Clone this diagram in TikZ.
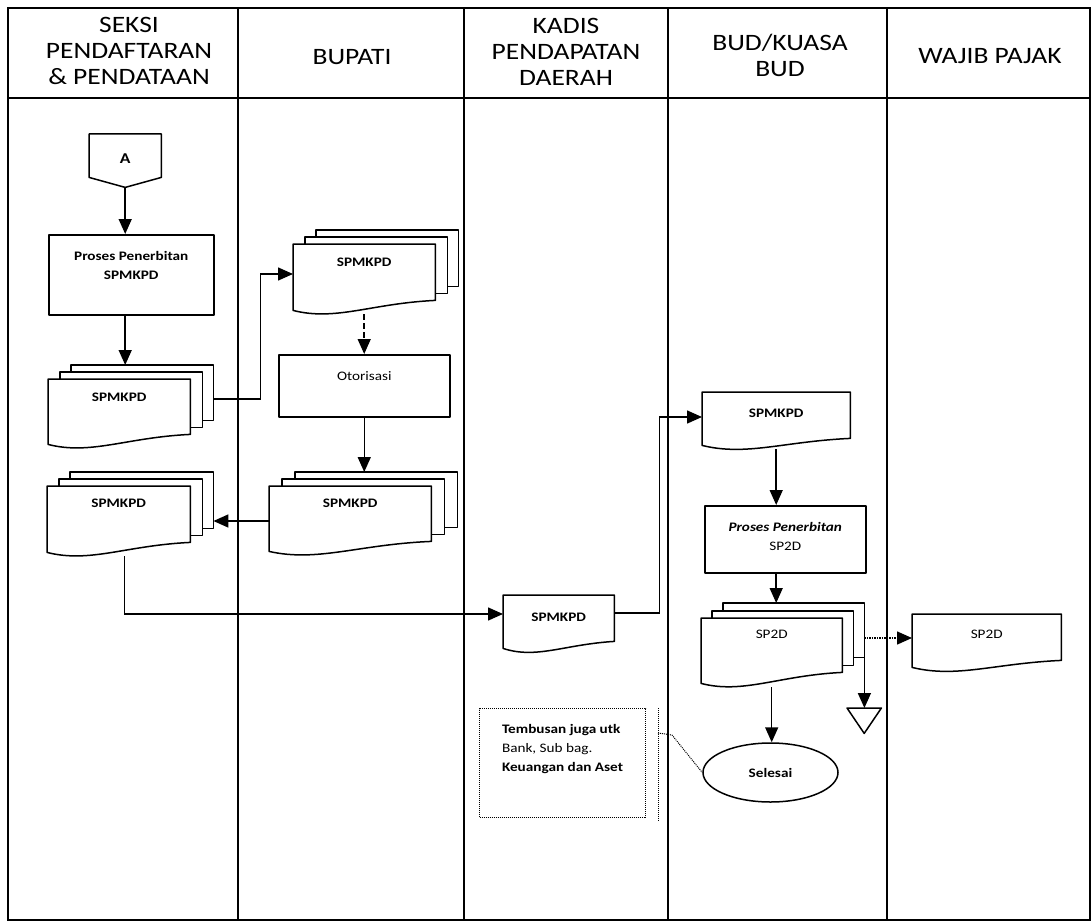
\documentclass[tikz,border=0pt]{standalone}
\usepackage{fontspec}
\setmainfont{Carlito}[FakeStretch=1.17]
\usetikzlibrary{arrows.meta,calc,backgrounds,shapes.geometric}

\newcommand{\bodyfont}{\fontsize{13}{19}\selectfont}
\newcommand{\headfont}{\fontsize{23.5}{26}\selectfont}

% document symbol drawn round node #1; #2 = rise of its lower right corner
\newcommand{\docoutline}[2]{%
  \filldraw[shapeline,fill=white]
    (#1.north west) -- (#1.north east) -- ([yshift=#2]#1.south east)
    .. controls ($(#1.south west)!0.55!(#1.south east)+(0pt,#2-3pt)$)
       and ($(#1.south west)!0.3!(#1.south east)+(0pt,-7pt)$)
    .. ([yshift=4pt]#1.south west) -- cycle;}

% a sheet behind the front document #1, moved by (#2,#3); #4 = rise of the front corner
\newcommand{\backsheet}[4]{%
  \filldraw[shapeline,fill=white]
    ([shift={(#2,#3)}]#1.north west) rectangle ([shift={(#2,#3+#4)}]#1.south east);}

\tikzset{
  shapeline/.style={line width=1.5pt, line join=round},
  base/.style={inner sep=0pt, anchor=north west, font=\bodyfont},
  boxnode/.style={base, draw, shapeline},
  arr/.style={line width=1.5pt, -{Triangle[length=15pt,width=13pt]}},
  frame/.style={line width=1.8pt},
  dotline/.style={line width=1pt, densely dotted},
  headnode/.style={font=\headfont, align=center, inner sep=0pt},
}

\begin{document}
\begin{tikzpicture}[x=1pt,y=-1pt]
\useasboundingbox (0,0) rectangle (1092,923);

% swimlane frame
\draw[frame] (8,8) rectangle (1090,920);
\draw[frame] (8,98) -- (1090,98);
\foreach \lx in {238,464,668,887} \draw[frame] (\lx,8) -- (\lx,920);

% lane titles
\node[headnode] (h1) at (129,51) {SEKSI\\PENDAFTARAN\\\& PENDATAAN};
\node[headnode] (h2) at (352,57) {BUPATI};
\node[headnode] (h3) at (566,52) {KADIS\\PENDAPATAN\\DAERAH};
\node[headnode] (h4) at (780,55) {BUD/KUASA\\BUD};
\node[headnode] (h5) at (990,56) {WAJIB PAJAK};

% off-page connector
\node[base, font=\fontsize{15}{18}\selectfont\bfseries, minimum width=72pt,
      text height=29pt, text depth=24pt] (A) at (89,134) {A};
\draw[shapeline] (A.north west) -- (A.north east) -- ([yshift=10pt]A.south east)
  -- (A.south) -- ([yshift=10pt]A.south west) -- cycle;

% process boxes
\node[boxnode, font=\bodyfont\bfseries, minimum width=165pt, text height=25.5pt, text depth=54.5pt]
  (p1) at (48,234) {\begin{tabular}[t]{@{}c@{}}Proses Penerbitan\\SPMKPD\end{tabular}};
\node[boxnode, minimum width=171pt, text height=25.5pt, text depth=36.5pt]
  (ot) at (278,354) {Otorisasi};
\node[boxnode, minimum width=161pt, text height=25.5pt, text depth=41.5pt]
  (p2) at (704,505) {\begin{tabular}[t]{@{}c@{}}\textbf{\textit{Proses Penerbitan}}\\SP2D\end{tabular}};

% documents (outlines on the background layer)
\node[base, font=\bodyfont\bfseries, minimum width=142pt, text height=22.5pt, text depth=46.5pt]
  (s1) at (48,379) {SPMKPD};
\node[base, font=\bodyfont\bfseries, minimum width=142pt, text height=22.5pt, text depth=47.5pt]
  (b1) at (293,244) {SPMKPD};
\node[base, font=\bodyfont\bfseries, minimum width=162pt, text height=21.5pt, text depth=47.5pt]
  (b2) at (269,486) {SPMKPD};
\node[base, font=\bodyfont\bfseries, minimum width=143pt, text height=21.5pt, text depth=48.5pt]
  (s2) at (47,486) {SPMKPD};
\node[base, font=\bodyfont\bfseries, minimum width=111pt, text height=26.5pt, text depth=30.5pt]
  (k1) at (503,595) {SPMKPD};
\node[base, font=\bodyfont\bfseries, minimum width=148pt, text height=25.5pt, text depth=31.5pt]
  (bd) at (702,392) {SPMKPD};
\node[base, minimum width=141pt, text height=20.5pt, text depth=48.5pt]
  (sp) at (701,618) {SP2D};
\node[base, minimum width=149pt, text height=24.5pt, text depth=32.5pt]
  (wj) at (912,614) {SP2D};

\begin{pgfonlayer}{background}
  \backsheet{s1}{23pt}{14pt}{14pt}
  \backsheet{s1}{12pt}{7pt}{14pt}
  \docoutline{s1}{14pt}
  \backsheet{b1}{23pt}{14pt}{14pt}
  \backsheet{b1}{12pt}{7pt}{14pt}
  \docoutline{b1}{14pt}
  \backsheet{b2}{26pt}{14pt}{14pt}
  \backsheet{b2}{13pt}{7pt}{14pt}
  \docoutline{b2}{14pt}
  \backsheet{s2}{23pt}{14pt}{14pt}
  \backsheet{s2}{12pt}{7pt}{14pt}
  \docoutline{s2}{14pt}
  \docoutline{k1}{11pt}
  \docoutline{bd}{11pt}
  \backsheet{sp}{22pt}{15pt}{15pt}
  \backsheet{sp}{11pt}{7pt}{15pt}
  \docoutline{sp}{15pt}
  \docoutline{wj}{11pt}
\end{pgfonlayer}

% terminator
\node[ellipse, draw, shapeline, inner sep=0pt, minimum width=135pt, minimum height=59pt,
      font=\bodyfont\bfseries] (se) at (770.5,772.5) {Selesai};

% off-page reference below the stack
\node[base, minimum width=34pt, minimum height=25pt] (off) at (847,708) {};
\draw[shapeline] (off.north west) -- (off.north east) -- (off.south) -- cycle;

% note with its bracket
\node[base, draw, dotline, minimum width=166pt, text height=25pt, text depth=84pt]
  (note) at (479,708) {\begin{tabular}[t]{@{}l@{}}\textbf{Tembusan juga utk}\\Bank, Sub bag.\\\textbf{Keuangan dan Aset}\end{tabular}};
\coordinate (brtop) at (658,708);
\coordinate (brbot) at (658,822);
\draw[dotline] (brtop) -- (brbot);
\draw[dotline] ($(brtop)+(0pt,-25pt)$) -- ++(14,2) -- (se.west);

% flow
\draw[arr] (A.south) -- (A.south |- p1.north);
\draw[arr] (A.south |- p1.south) -- ($(A.south |- s1.north)+(0pt,14pt)$);
\draw[arr] ($(s1.north east)+(23pt,-20pt)$) -- ++(47,0) |- ($(b1.north west)+(0pt,-30pt)$);
\draw[arr, dash pattern=on 6pt off 3pt] (b1.south) -- (b1.south |- ot.north);
\draw[arr] (ot.south) -- ($(ot.south |- b2.north)+(0pt,14pt)$);
\draw[arr] ($(b2.north west)+(0pt,-35pt)$) -- ($(s2.north east)+(23pt,-35pt)$);
\draw[arr] ($(s2.south)+(6pt,0pt)$) |- ($(k1.north west)+(0pt,-19pt)$);
\draw[arr] ($(k1.north east)+(0pt,-18pt)$) -- ++(45,0) |- ($(bd.north west)+(0pt,-25pt)$);
\draw[arr] (bd.south) -- (bd.south |- p2.north);
\draw[arr] (bd.south |- p2.south) -- ($(bd.south |- sp.north)+(0pt,15pt)$);
\draw[arr, densely dotted] ($(sp.north east)+(22pt,-20pt)$) -- ($(wj.north west)+(0pt,-24pt)$);
\draw[arr] (sp.south) -- (sp.south |- se.north);
\draw[arr] ($(sp.south east)+(22pt,30pt)$) -- ($(sp.south east |- off.north)+(22pt,0pt)$);
\end{tikzpicture}
\end{document}
